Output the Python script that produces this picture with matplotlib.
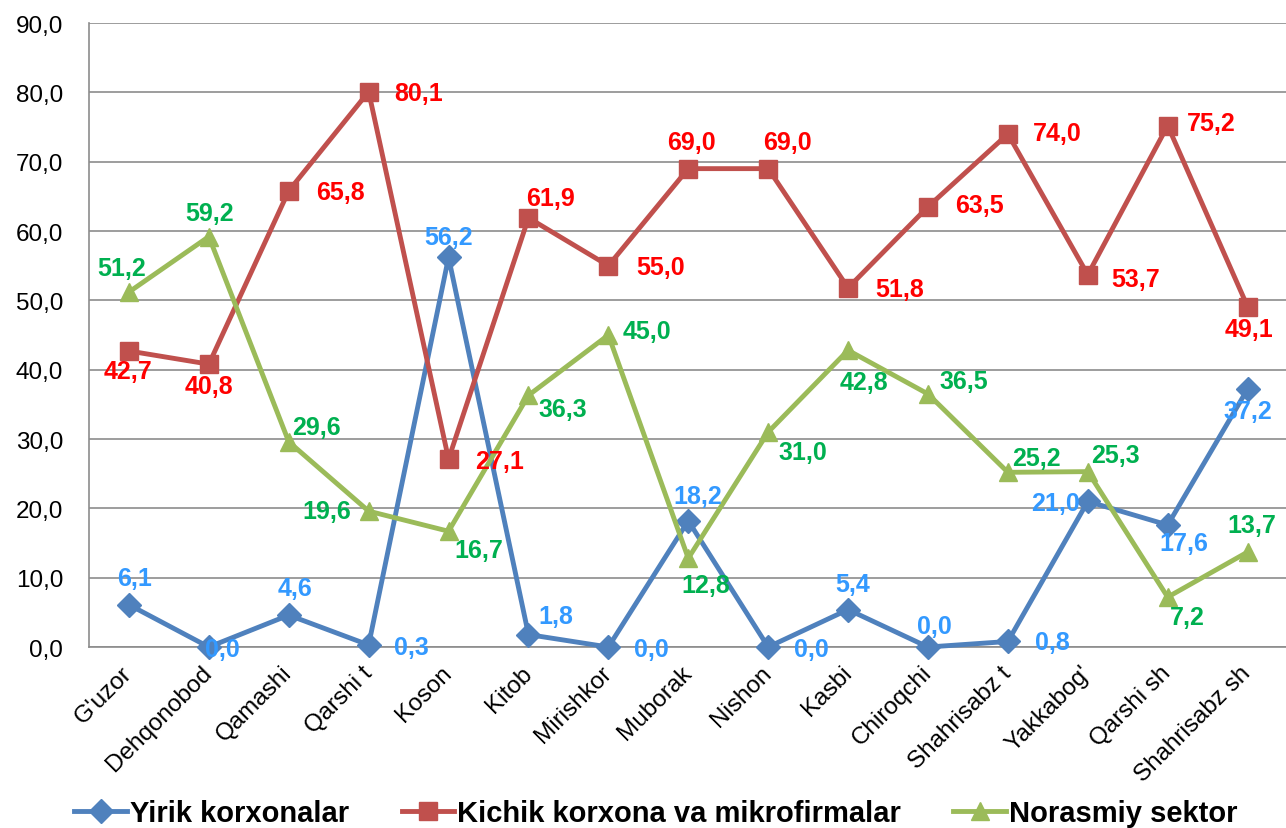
import matplotlib
matplotlib.use("Agg")
import matplotlib.pyplot as plt
from matplotlib.ticker import FuncFormatter

categories = ["G'uzor", "Dehqonobod", "Qamashi", "Qarshi t", "Koson", "Kitob",
              "Mirishkor", "Muborak", "Nishon", "Kasbi", "Chiroqchi",
              "Shahrisabz t", "Yakkabog'", "Qarshi sh", "Shahrisabz sh"]
yirik = [6.1, 0.0, 4.6, 0.3, 56.2, 1.8, 0.0, 18.2, 0.0, 5.4, 0.0, 0.8, 21.0, 17.6, 37.2]
kichik = [42.7, 40.8, 65.8, 80.1, 27.1, 61.9, 55.0, 69.0, 69.0, 51.8, 63.5, 74.0, 53.7, 75.2, 49.1]
norasmiy = [51.2, 59.2, 29.6, 19.6, 16.7, 36.3, 45.0, 12.8, 31.0, 42.8, 36.5, 25.2, 25.3, 7.2, 13.7]
series_names = ["Yirik korxonalar", "Kichik korxona va mikrofirmalar", "Norasmiy sektor"]

# label offsets in pixels (dx, dy; dy positive = up)
off_y = [(6, 27), (14, -2), (6, 27), (43, -2), (0, 20), (27, 19), (43, -2), (9, 25),
         (43, -2), (5, 26), (6, 21), (44, -1), (-32, -2), (16, -18), (0, -22)]
off_k = [(-1, -20), (0, -22), (52, -1), (50, -1), (51, -2), (22, 20), (52, -1), (3, 27),
         (19, 27), (52, -1), (51, 2), (49, 1), (48, -4), (44, 3), (1, -22)]
off_n = [(-7, 24), (1, 24), (28, 15), (-42, 0), (30, -19), (34, -14), (39, 4), (17, -27),
         (35, -20), (16, -32), (36, 13), (29, 14), (28, 17), (20, -20), (4, 27)]

plt.rcParams['font.family'] = ['Liberation Sans', 'DejaVu Sans']

fig = plt.figure(figsize=(12.86, 8.29), dpi=100)
ax = fig.add_axes([0.0692, 0.2183, 0.932, 0.7527])

x = list(range(len(categories)))
specs = [
    (yirik, "#4F81BD", "D", 12, "#3399FF", off_y),
    (kichik, "#C0504D", "s", 13, "#FF0000", off_k),
    (norasmiy, "#9BBB59", "^", 13, "#00B050", off_n),
]
handles = []
for (vals, col, mk, ms, lc, offs), name in zip(specs, series_names):
    h, = ax.plot(x, vals, color=col, lw=3.5, marker=mk, markersize=ms,
                 markerfacecolor=col, markeredgecolor=col, label=name, zorder=3,
                 clip_on=False)
    handles.append(h)
    for xi, v, (dx, dy) in zip(x, vals, offs):
        ax.annotate(f"{v:.1f}".replace(".", ","), (xi, v), xytext=(dx, dy),
                    textcoords="offset pixels", ha="center", va="center",
                    color=lc, fontsize=18, fontweight="bold", zorder=4)

ax.set_xlim(-0.5, len(categories) - 0.5)
ax.set_ylim(0, 90)
ax.set_yticks(range(0, 91, 10))
ax.yaxis.set_major_formatter(FuncFormatter(lambda v, p: f"{v:.1f}".replace(".", ",")))
ax.grid(axis="y", color="#8C8C8C", lw=1.2)
ax.set_axisbelow(True)
for s in ["top", "right"]:
    ax.spines[s].set_visible(False)
ax.spines["left"].set_color("#8C8C8C")
ax.spines["bottom"].set_color("#8C8C8C")
ax.spines["left"].set_linewidth(1.2)
ax.spines["bottom"].set_linewidth(1.2)
ax.tick_params(axis="y", length=0, labelsize=17.5, pad=18.5)
ax.tick_params(axis="x", length=0, labelsize=17.5, pad=16)
ax.set_xticks(x)
ax.set_xticklabels(categories, rotation=45, ha="right", va="center",
                   rotation_mode="anchor")

leg = fig.legend(handles=handles, labels=series_names, loc="center",
                 bbox_to_anchor=(0.51, 0.018), ncol=3, frameon=False,
                 fontsize=21, handlelength=1.8, columnspacing=1.8,
                 handletextpad=0.1, borderpad=0, borderaxespad=0)
for t in leg.get_texts():
    t.set_fontweight("bold")

fig.savefig("out.png", dpi=100)
